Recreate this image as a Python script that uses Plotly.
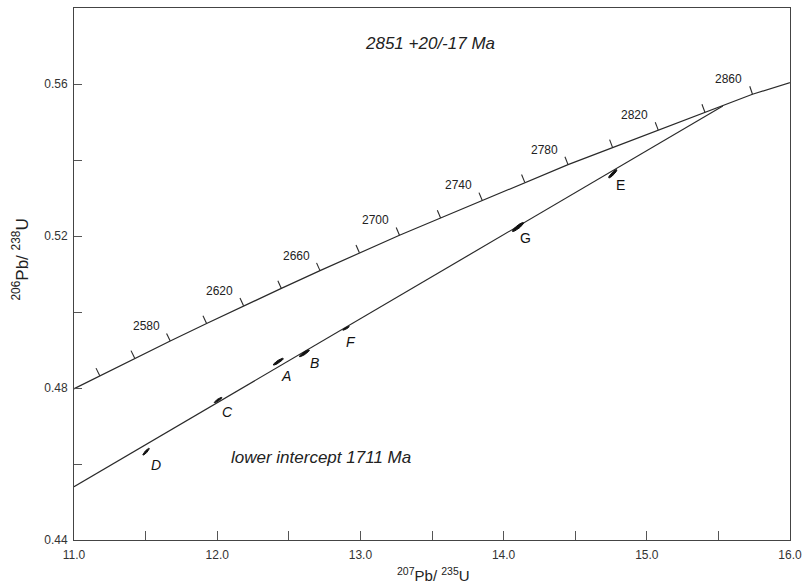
import numpy as np
import plotly.graph_objects as go

# Concordia tick ages (Ma) and their ratio coordinates
conc_age = [2520, 2540, 2560, 2580, 2600, 2620, 2640, 2660, 2680, 2700,
            2720, 2740, 2760, 2780, 2800, 2820, 2840, 2860, 2880]
conc_x = [10.942, 11.180, 11.424, 11.672, 11.926, 12.184, 12.448, 12.718, 12.993, 13.273,
          13.560, 13.851, 14.148, 14.450, 14.761, 15.080, 15.406, 15.738, 16.077]
conc_y = [0.47873, 0.48323, 0.48783, 0.49236, 0.49699, 0.50165, 0.50621, 0.51089, 0.51558, 0.52020,
          0.52472, 0.52936, 0.53411, 0.53878, 0.54326, 0.54786, 0.55257, 0.55730, 0.56130]
tick_ages = [2540, 2560, 2580, 2600, 2620, 2640, 2660, 2680, 2700, 2720,
             2740, 2760, 2780, 2800, 2820, 2840, 2860]
label_ages = [2580, 2620, 2660, 2700, 2740, 2780, 2820, 2860]

# Discordia (from left axis to upper intercept)
disc_x = [11.0, 15.531]
disc_y = [0.4540, 0.55421]

# Analyses (error-ellipse centres and half-extents)
pt_label = ["A", "B", "C", "D", "E", "F", "G"]
pt_x = [12.4266, 12.6087, 12.0062, 11.5035, 14.7625, 12.8996, 14.1004]
pt_y = [0.48692, 0.48913, 0.47684, 0.46324, 0.53639, 0.49571, 0.52237]
pt_sx = [0.035, 0.035, 0.027, 0.023, 0.029, 0.023, 0.040]
pt_sy = [0.0009, 0.0009, 0.0007, 0.0009, 0.0011, 0.0005, 0.0012]
pt_rho = [0.9, 0.9, 0.9, 0.9, 0.9, 0.9, 0.9]

x_ticks = [11.0, 12.0, 13.0, 14.0, 15.0, 16.0]
y_ticks = [0.44, 0.48, 0.52, 0.56]

FONT = "Liberation Sans, Arial, Helvetica, sans-serif"
LINE = "#2a2a2a"

W, H = 809, 585
ML, MR, MT, MB = 74, 13, 7, 45
XR = [11.0, 16.0]
YR = [0.44, 0.58]
pxx = (W - ML - MR) / (XR[1] - XR[0])
pxy = (H - MT - MB) / (YR[1] - YR[0])

fig = go.Figure()

# Concordia curve
fig.add_trace(go.Scatter(x=conc_x, y=conc_y, mode="lines",
                         line=dict(color=LINE, width=1.2), hoverinfo="skip"))

# Concordia age ticks (short perpendicular strokes on the upper-left side)
tx, ty = [], []
for age in tick_ages:
    i = conc_age.index(age)
    dxp = (conc_x[i + 1] - conc_x[i - 1]) * pxx
    dyp = (conc_y[i + 1] - conc_y[i - 1]) * pxy
    n = np.hypot(dxp, dyp)
    ux, uy = -dyp / n, dxp / n
    L = 8.5
    tx += [conc_x[i], conc_x[i] + ux * L / pxx, None]
    ty += [conc_y[i], conc_y[i] + uy * L / pxy, None]
fig.add_trace(go.Scatter(x=tx, y=ty, mode="lines",
                         line=dict(color=LINE, width=1.1), hoverinfo="skip"))

# Discordia
fig.add_trace(go.Scatter(x=disc_x, y=disc_y, mode="lines",
                         line=dict(color=LINE, width=1.2), hoverinfo="skip"))

# Error ellipses
t = np.linspace(0, 2 * np.pi, 60)
for lab, cx, cy, sx, sy, r in zip(pt_label, pt_x, pt_y, pt_sx, pt_sy, pt_rho):
    ex = cx + sx * np.cos(t)
    ey = cy + sy * (r * np.cos(t) + np.sqrt(1 - r * r) * np.sin(t))
    fig.add_trace(go.Scatter(x=ex, y=ey, mode="lines", fill="toself",
                             fillcolor="#111", line=dict(color="#111", width=1),
                             hoverinfo="skip"))

annotations = []
for age in label_ages:
    i = conc_age.index(age)
    annotations.append(dict(x=conc_x[i], y=conc_y[i], xref="x", yref="y",
                            text=str(age), showarrow=False, xshift=-24, yshift=15,
                            font=dict(family=FONT, size=12, color="#222")))

offs = {"A": (8, -14), "B": (10, -10), "C": (9, -12), "D": (10, -13),
        "E": (8, -11), "F": (5, -14), "G": (8, -11)}
for lab, cx, cy in zip(pt_label, pt_x, pt_y):
    ox, oy = offs[lab]
    txt = lab if lab in ("E", "G") else "<i>" + lab + "</i>"
    annotations.append(dict(x=cx, y=cy, xref="x", yref="y", text=txt,
                            showarrow=False, xshift=ox, yshift=oy,
                            font=dict(family=FONT, size=14, color="#111")))

annotations.append(dict(x=11 + (432.5 - ML) / pxx, y=0.48 + (387 - 42) / 3800, xref="x", yref="y",
                        text="<i>2851 +20/-17 Ma</i>", showarrow=False,
                        font=dict(family=FONT, size=17, color="#222")))
annotations.append(dict(x=11 + (323 - ML) / pxx, y=0.48 - (456 - 387) / 3800, xref="x", yref="y",
                        text="<i>lower intercept 1711 Ma</i>", showarrow=False,
                        font=dict(family=FONT, size=17, color="#222")))

# Axis titles
annotations.append(dict(xref="paper", yref="paper", x=(437 - ML) / (W - ML - MR), y=0,
                        yshift=-(574 - (H - MB)), yanchor="middle", xanchor="center",
                        text="<sup>207</sup>Pb/ <sup>235</sup>U", showarrow=False,
                        font=dict(family=FONT, size=15, color="#222")))
annotations.append(dict(xref="paper", yref="paper", x=0, xshift=20 - ML, xanchor="center",
                        y=(H - MB - 259) / (H - MT - MB), yanchor="middle", textangle=-90,
                        text="<sup>206</sup>Pb/ <sup>238</sup>U", showarrow=False,
                        font=dict(family=FONT, size=17, color="#222")))

fig.update_layout(
    width=W, height=H,
    margin=dict(l=ML, r=MR, t=MT, b=MB),
    paper_bgcolor="white", plot_bgcolor="white",
    showlegend=False,
    annotations=annotations,
    xaxis=dict(range=XR, tickvals=x_ticks, ticktext=["%.1f" % v for v in x_ticks],
               ticks="inside", ticklen=9, tickcolor="#555", tickwidth=1,
               ticklabelstandoff=4,
               showline=True, linecolor="#444", linewidth=1, mirror=True,
               showgrid=False, zeroline=False,
               minor=dict(ticks="inside", ticklen=9, tickcolor="#555", dtick=0.5, tick0=11.0),
               tickfont=dict(family=FONT, size=12, color="#333")),
    yaxis=dict(range=YR, tickvals=y_ticks, ticktext=["%.2f" % v for v in y_ticks],
               ticks="inside", ticklen=8, tickcolor="#555", tickwidth=1,
               ticklabelstandoff=3,
               showline=True, linecolor="#444", linewidth=1, mirror=True,
               showgrid=False, zeroline=False,
               minor=dict(ticks="inside", ticklen=8, tickcolor="#555", dtick=0.02, tick0=0.44),
               tickfont=dict(family=FONT, size=12, color="#333")),
)

fig.write_html("out.html", config={"displayModeBar": False},
               post_script="document.body.style.margin='0px';")
